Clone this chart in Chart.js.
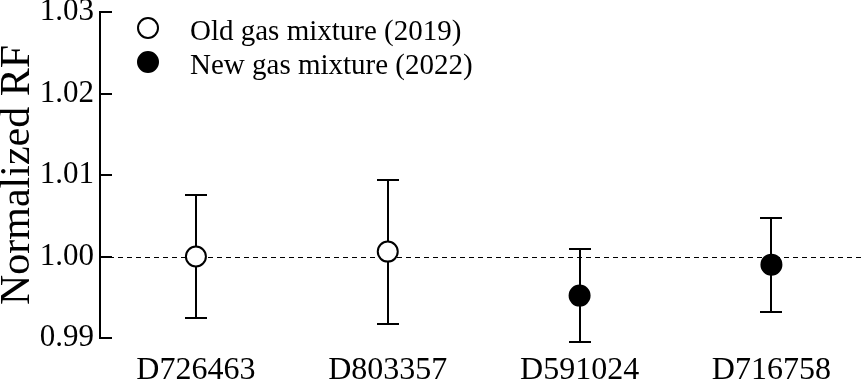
<!DOCTYPE html>
<html>
<head>
<meta charset="utf-8">
<script src="https://cdn.jsdelivr.net/npm/chart.js@4"></script>
<style>
  html, body { margin: 0; padding: 0; background: #fff; overflow: hidden; }
  #wrap { width: 864px; height: 381px; position: relative; }
  canvas { display: block; }
</style>
</head>
<body>
<div id="wrap"><canvas id="rfChart"></canvas></div>
<script>
// Chart data
var labels = ["D726463", "D803357", "D591024", "D716758"];
var oldMixture = [1.0000, 1.0006, null, null];
var newMixture = [null, null, 0.9952, 0.9990];
var errUpper = [1.0075, 1.0094, 1.0009, 1.0047];
var errLower = [0.9925, 0.9917, 0.9895, 0.9932];
var yTicks = [0.99, 1.00, 1.01, 1.02, 1.03];

var serif = "'Liberation Serif', 'Times New Roman', serif";

// turn a value list into {x, y} points, x = category index
function toPoints(values) {
    var pts = [];
    values.forEach(function (v, i) {
        if (v !== null) pts.push({ x: i, y: v });
    });
    return pts;
}

// Dashed reference line, inward ticks and error bars
var decorPlugin = {
    id: "decor",
    beforeDatasetsDraw: function (chart) {
        var ctx = chart.ctx;
        var x = chart.scales.x;
        var y = chart.scales.y;
        var area = chart.chartArea;
        ctx.save();
        ctx.strokeStyle = "#000";

        // dashed line at 1.00
        ctx.lineWidth = 1;
        ctx.setLineDash([5, 4]);
        var y1 = Math.round(y.getPixelForValue(1.0)) + 0.5;
        ctx.beginPath();
        ctx.moveTo(area.left, y1);
        ctx.lineTo(chart.width, y1);
        ctx.stroke();
        ctx.setLineDash([]);

        // inward tick marks
        ctx.lineWidth = 2;
        yTicks.forEach(function (t) {
            var py = Math.round(y.getPixelForValue(t));
            ctx.beginPath();
            ctx.moveTo(area.left, py);
            ctx.lineTo(area.left + 12, py);
            ctx.stroke();
        });

        // error bars
        labels.forEach(function (lab, i) {
            var px = Math.round(x.getPixelForValue(i));
            var top = Math.round(y.getPixelForValue(errUpper[i]));
            var bot = Math.round(y.getPixelForValue(errLower[i]));
            ctx.beginPath();
            ctx.moveTo(px, top);
            ctx.lineTo(px, bot);
            ctx.moveTo(px - 11, top);
            ctx.lineTo(px + 11, top);
            ctx.moveTo(px - 11, bot);
            ctx.lineTo(px + 11, bot);
            ctx.stroke();
        });
        ctx.restore();
    },
    afterDraw: function (chart) {
        // legend in the upper left of the plot
        var ctx = chart.ctx;
        var rows = [
            { text: "Old gas mixture (2019)", fill: "#fff", y: 28 },
            { text: "New gas mixture (2022)", fill: "#000", y: 62 }
        ];
        ctx.save();
        rows.forEach(function (r) {
            ctx.beginPath();
            ctx.arc(148, r.y, 10, 0, Math.PI * 2);
            ctx.fillStyle = r.fill;
            ctx.fill();
            ctx.lineWidth = 2;
            ctx.strokeStyle = "#000";
            ctx.stroke();
            ctx.fillStyle = "#000";
            ctx.font = "29px " + serif;
            ctx.textBaseline = "alphabetic";
            ctx.fillText(r.text, 190, r.y + 12);
        });
        ctx.restore();
    }
};

var ctxRF = document.getElementById("rfChart").getContext("2d");

var rfChart = new Chart(ctxRF, {
    type: "scatter",
    data: {
        datasets: [
            {
                label: "Old gas mixture (2019)",
                data: toPoints(oldMixture),
                pointRadius: 10,
                pointBorderWidth: 2,
                pointBackgroundColor: "#fff",
                pointBorderColor: "#000",
                clip: false
            },
            {
                label: "New gas mixture (2022)",
                data: toPoints(newMixture),
                pointRadius: 10,
                pointBorderWidth: 2,
                pointBackgroundColor: "#000",
                pointBorderColor: "#000",
                clip: false
            }
        ]
    },
    options: {
        responsive: true,
        maintainAspectRatio: false,
        animation: false,
        layout: { padding: { top: 12, right: 0, bottom: 0, left: 0 } },
        plugins: {
            legend: { display: false },
            tooltip: { enabled: false }
        },
        scales: {
            x: {
                type: "linear",
                min: -0.5,
                max: 3.42,
                grid: { display: false, drawTicks: false },
                border: { display: false },
                afterBuildTicks: function (scale) {
                    scale.ticks = labels.map(function (l, i) { return { value: i }; });
                },
                ticks: {
                    color: "#000",
                    padding: 13,
                    maxRotation: 0,
                    autoSkip: false,
                    font: { family: serif, size: 32 },
                    callback: function (v) { return labels[v]; }
                },
                afterFit: function (scale) {
                    scale.height = 43;
                    scale.paddingLeft = 0;
                    scale.paddingRight = 0;
                }
            },
            y: {
                min: 0.99,
                max: 1.03,
                grid: { display: false, drawTicks: false },
                border: { display: true, color: "#000", width: 2 },
                afterBuildTicks: function (scale) {
                    scale.ticks = yTicks.map(function (v) { return { value: v }; });
                },
                ticks: {
                    color: "#000",
                    padding: 6,
                    font: { family: serif, size: 31, lineHeight: 0.8 },
                    callback: function (v) { return Number(v).toFixed(2); }
                },
                title: {
                    display: true,
                    text: "Normalized RF",
                    color: "#000",
                    padding: 0,
                    font: { family: serif, size: 42, lineHeight: 0.85 }
                },
                afterFit: function (scale) {
                    scale.width = 100;
                    scale.paddingTop = 0;
                    scale.paddingBottom = 0;
                }
            }
        }
    },
    plugins: [decorPlugin]
});
</script>
</body>
</html>
